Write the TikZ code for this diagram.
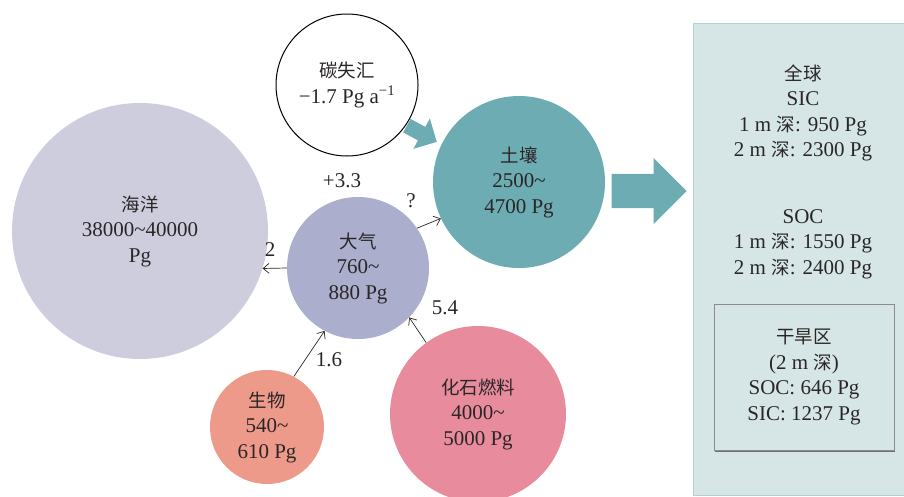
\documentclass[tikz,border=0pt]{standalone}
\usepackage{fontspec}
\setmainfont{Liberation Serif}
\newfontfamily\cjk{Noto Sans CJK SC}[Scale=0.88]
\usetikzlibrary{arrows.meta,shapes.arrows,shadows}
\definecolor{ink}{HTML}{2A2627}
\definecolor{oceanC}{HTML}{CECDDD}
\definecolor{soilC}{HTML}{6DACB2}
\definecolor{atmC}{HTML}{ABAECC}
\definecolor{bioC}{HTML}{EE9A8B}
\definecolor{fossilC}{HTML}{E88B9C}
\definecolor{panelC}{HTML}{D6E6E6}
\definecolor{panelLine}{HTML}{B3D1D1}
\tikzset{>={Straight Barb[length=6pt,width=10pt]},
  pool/.style={circle,inner sep=0pt,align=center,text=ink,font=\fontsize{21}{25.5}\selectfont},
  flux/.style={draw=ink,line width=0.7pt,->},
  lab/.style={text=ink,font=\fontsize{21}{25.5}\selectfont,inner sep=1pt,align=center},
  flow/.style={single arrow,fill=soilC,inner xsep=0pt,single arrow tip angle=90,anchor=tip},
  panelbox/.style={draw=panelLine,fill=panelC,line width=1.2pt,inner sep=0pt},
  drybox/.style={draw=black!45,fill=panelC,line width=0.6pt,inner sep=0pt,
    minimum width=180pt,minimum height=146pt,text=ink,align=center,
    font=\fontsize{21}{25.5}\selectfont,
    drop shadow={shadow xshift=1.2pt,shadow yshift=-2pt,fill=black,opacity=0.5}}}

\begin{document}
\begin{tikzpicture}[x=1pt,y=-1pt]
  \useasboundingbox (0,0) rectangle (904,496);
  % right panel
  \node[panelbox,minimum width=222pt,minimum height=472pt,anchor=north west] (world) at (693,23) {};
  \node[lab] (sic) at (803,113) {{\cjk 全球}\\SIC\\1 m {\cjk 深}: 950 Pg\\2 m {\cjk 深}: 2300 Pg};
  \node[lab] (soc) at (803,244) {SOC\\1 m {\cjk 深}: 1550 Pg\\2 m {\cjk 深}: 2400 Pg};
  \node[drybox] (dry) at (804,377) {{\cjk 干旱区}\\(2 m {\cjk 深})\\SOC: 646 Pg\\SIC: 1237 Pg};
  % pools
  \node[pool,fill=oceanC,minimum size=256pt] (ocean) at (140,231) {{\cjk 海洋}\\38000\textasciitilde40000\\Pg};
  \node[pool,draw=black,line width=1pt,fill=white,minimum size=142pt] (sink) at (347,85) {{\cjk 碳失汇}\\−1.7 Pg a\textsuperscript{−1}};
  \node[pool,fill=soilC,minimum size=172pt] (soil) at (519,182) {{\cjk 土壤}\\2500\textasciitilde\\4700 Pg};
  \node[pool,fill=atmC,minimum size=142pt] (atm) at (358,268) {{\cjk 大气}\\760\textasciitilde\\880 Pg};
  \node[pool,fill=bioC,minimum size=114pt] (bio) at (267,427) {{\cjk 生物}\\540\textasciitilde\\610 Pg};
  \node[pool,fill=fossilC,minimum size=176pt] (fossil) at (478,414) {{\cjk 化石燃料}\\4000\textasciitilde\\5000 Pg};
  % block arrows
  \node[flow,rotate=-28.5,minimum height=34pt,inner ysep=7.5pt,single arrow head extend=9.5pt] (sinkflow) at (437,142) {};
  \node[flow,minimum height=75pt,inner ysep=17pt,single arrow head extend=16pt] (outflow) at (687,191) {};
  % fluxes
  \draw[flux] (atm.west) -- (ocean.-17);
  \draw[flux] (atm.34) -- (soil.205);
  \draw[flux] (bio.62) -- (atm.-118);
  \draw[flux] (fossil.126) -- (atm.-44);
  \node[lab] (fsink) at (342,181) {+3.3};
  \node[lab] (focean) at (270,250) {2};
  \node[lab] (fsoil) at (411,201) {?};
  \node[lab] (fbio) at (329,360) {1.6};
  \node[lab] (ffossil) at (445,308) {5.4};
\end{tikzpicture}
\end{document}
